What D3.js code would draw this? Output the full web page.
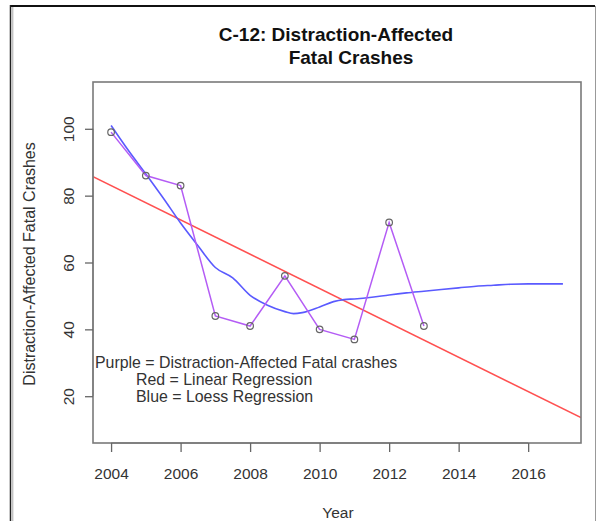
<!DOCTYPE html>
<html>
<head>
<meta charset="utf-8">
<script src="https://cdn.jsdelivr.net/npm/d3@7"></script>
<style>
  html, body { margin: 0; padding: 0; background: #fff; }
  svg { display: block; }
  text { font-family: "Liberation Sans", Arial, sans-serif; }
</style>
</head>
<body>
<svg id="chart" width="597" height="521"></svg>
<script>
// ---- data ----
const years = [2004, 2005, 2006, 2007, 2008, 2009, 2010, 2011, 2012, 2013];
const crashes = [99, 86, 83, 44, 41, 56, 40, 37, 72, 41];

// loess curve
const loessYears = [2004, 2004.5, 2005, 2005.5, 2006, 2006.5, 2007, 2007.5, 2008, 2008.5, 2009, 2009.25, 2009.5, 2010, 2010.4, 2010.7, 2011, 2011.5, 2012, 2012.5, 2013, 2013.5, 2014, 2014.5, 2015, 2015.5, 2016, 2016.5, 2017];
const loessValues = [101, 93.5, 86.5, 79.3, 71.8, 65, 58.5, 55.4, 50.2, 47.2, 45.3, 44.7, 45, 46.7, 48.3, 48.9, 49.1, 49.6, 50.3, 50.9, 51.4, 51.9, 52.4, 52.9, 53.2, 53.5, 53.6, 53.6, 53.6];

// linear regression line endpoints as read (spans full plot width)
const regYears = [2003.48, 2017.52];
const regValues = [85.7, 13.6];

const xTicks = [2004, 2006, 2008, 2010, 2012, 2014, 2016];
const yTicks = [20, 40, 60, 80, 100];
const titleLines = ["C-12: Distraction-Affected", "Fatal Crashes"];
const legendLines = ["Purple = Distraction-Affected Fatal crashes", "Red = Linear Regression", "Blue = Loess Regression"];
const xLabel = "Year";
const yLabel = "Distraction-Affected Fatal Crashes";

// ---- layout ----
const svg = d3.select("#chart");
const box = { left: 93, right: 581, top: 82, bottom: 443 };

const x = d3.scaleLinear().domain([2003.48, 2017.52]).range([box.left, box.right]);
const y = d3.scaleLinear().domain([6, 114]).range([box.bottom, box.top]);

// outer frame
svg.append("line").attr("x1", 10).attr("x2", 595).attr("y1", 6).attr("y2", 6).attr("stroke", "#111").attr("stroke-width", 2);
svg.append("line").attr("x1", 10.5).attr("x2", 10.5).attr("y1", 5).attr("y2", 521).attr("stroke", "#222").attr("stroke-width", 1.5);
svg.append("line").attr("x1", 12.8).attr("x2", 12.8).attr("y1", 7).attr("y2", 521).attr("stroke", "#aaa").attr("stroke-width", 1);
svg.append("line").attr("x1", 595.5).attr("x2", 595.5).attr("y1", 6).attr("y2", 521).attr("stroke", "#999").attr("stroke-width", 1);

// title
svg.append("text").attr("x", 336).attr("y", 41).attr("text-anchor", "middle")
  .attr("font-size", 19).attr("font-weight", "bold").attr("fill", "#111").text(titleLines[0]);
svg.append("text").attr("x", 351).attr("y", 64).attr("text-anchor", "middle")
  .attr("font-size", 19).attr("font-weight", "bold").attr("fill", "#111").text(titleLines[1]);

// clip
svg.append("defs").append("clipPath").attr("id", "clip").append("rect")
  .attr("x", box.left).attr("y", box.top).attr("width", box.right - box.left).attr("height", box.bottom - box.top);

const plot = svg.append("g").attr("clip-path", "url(#clip)");

// regression line
plot.append("path")
  .datum(regYears.map((d, i) => [d, regValues[i]]))
  .attr("d", d3.line().x(d => x(d[0])).y(d => y(d[1])))
  .attr("fill", "none").attr("stroke", "#ff5050").attr("stroke-width", 1.6);

// loess line
plot.append("path")
  .datum(loessYears.map((d, i) => [d, loessValues[i]]))
  .attr("d", d3.line().curve(d3.curveMonotoneX).x(d => x(d[0])).y(d => y(d[1])))
  .attr("fill", "none").attr("stroke", "#5a5aff").attr("stroke-width", 1.6);

// data line
plot.append("path")
  .datum(years.map((d, i) => [d, crashes[i]]))
  .attr("d", d3.line().x(d => x(d[0])).y(d => y(d[1])))
  .attr("fill", "none").attr("stroke", "#b45cf5").attr("stroke-width", 1.5);

// points
plot.selectAll("circle.pt").data(years).enter().append("circle")
  .attr("class", "pt")
  .attr("cx", (d) => x(d)).attr("cy", (d, i) => y(crashes[i]))
  .attr("r", 3.3).attr("fill", "none").attr("stroke", "#666").attr("stroke-width", 1.2);

// plot box
svg.append("rect").attr("x", box.left).attr("y", box.top)
  .attr("width", box.right - box.left).attr("height", box.bottom - box.top)
  .attr("fill", "none").attr("stroke", "#7a7a7a").attr("stroke-width", 1.6);

// x axis
const xAxis = d3.axisBottom(x).tickValues(xTicks).tickSize(9).tickPadding(16).tickFormat(d3.format("d"));
const gx = svg.append("g").attr("transform", `translate(0,${box.bottom})`).call(xAxis);
gx.select(".domain").attr("stroke", "#7a7a7a").attr("stroke-width", 1.3)
  .attr("d", `M${x(xTicks[0])},0H${x(xTicks[xTicks.length - 1])}`);
gx.selectAll(".tick line").attr("stroke", "#666").attr("stroke-width", 1.3);
gx.selectAll(".tick text").attr("font-size", 15.5).attr("fill", "#333")
  .attr("font-family", "'Liberation Sans', Arial, sans-serif");

// y axis
const yAxis = d3.axisLeft(y).tickValues(yTicks).tickSize(8).tickPadding(0).tickFormat(d3.format("d"));
const gy = svg.append("g").attr("transform", `translate(${box.left},0)`).call(yAxis);
gy.select(".domain").attr("stroke", "#7a7a7a").attr("stroke-width", 1.3)
  .attr("d", `M0,${y(yTicks[0])}V${y(yTicks[yTicks.length - 1])}`);
gy.selectAll(".tick line").attr("stroke", "#666").attr("stroke-width", 1.3);
gy.selectAll(".tick text")
  .attr("font-size", 15.5).attr("fill", "#333")
  .attr("font-family", "'Liberation Sans', Arial, sans-serif")
  .attr("x", 0).attr("dy", null)
  .attr("text-anchor", "middle")
  .attr("transform", "translate(-25,0) rotate(-90)")
  .attr("y", 0)
  .attr("dominant-baseline", "central");

// axis labels
svg.append("text").attr("x", 338).attr("y", 518).attr("text-anchor", "middle")
  .attr("font-size", 15.5).attr("fill", "#333").text(xLabel);
svg.append("text").attr("transform", "translate(35,264) rotate(-90)").attr("text-anchor", "middle")
  .attr("font-size", 16).attr("fill", "#333").text(yLabel);

// legend text
const legendX = [95, 136, 136];
legendLines.forEach((t, i) => {
  svg.append("text").attr("x", legendX[i]).attr("y", 368 + i * 17)
    .attr("font-size", 15.9).attr("fill", "#333").text(t);
});
</script>
</body>
</html>
